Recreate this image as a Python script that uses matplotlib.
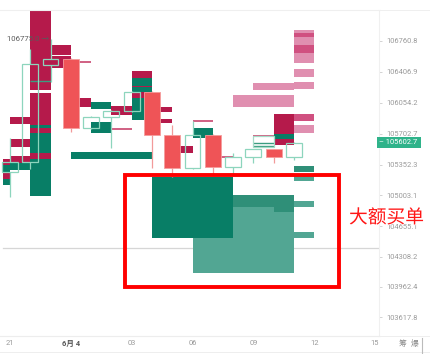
import matplotlib
matplotlib.use("Agg")
import matplotlib.pyplot as plt
from matplotlib.patches import Rectangle
from matplotlib.transforms import blended_transform_factory
import matplotlib.patheffects as pe

plt.rcParams['font.family'] = ['Roboto', 'Noto Sans CJK SC', 'DejaVu Sans']

# hourly candles, hour 0 = 21:00
hours = list(range(15))
open_ = [105269, 105383, 106485, 106553, 105769, 105894, 105962, 106178,
         105689, 105314, 105689, 105326, 105439, 105530, 105439]
close = [105383, 106496, 106553, 105769, 105894, 105962, 106178, 105689,
         105314, 105689, 105326, 105439, 105530, 105439, 105602.7]
high = [105655, 106666, 106775.0, 106560, 105900, 105970, 106190, 106185,
        105803, 105849, 105695, 105485, 105535, 105535, 105610]
low = [104985, 105300, 106291, 105723, 105760, 105542, 105950, 105314,
       105212, 105300, 105234, 105234, 105371, 105371, 105405]

# order blocks: (start hour, end hour, low price, high price)
sell_blocks = [
    (-0.35, 0, 105348, 105417), (-0.35, 0, 105190, 105258),
    (0, 1, 105814, 105894), (0, 1, 105553, 105644), (0, 1, 105371, 105451),
    (1, 2, 106201, 107110), (1, 2, 105803, 106166), (1, 2, 105712, 105769),
    (1, 2, 105417, 105485),
    (2, 3, 106598, 106712), (2, 3, 106451, 106587),
    (3.4, 4, 106007, 106110),
    (5, 6, 105917, 106019),
    (6, 7, 106337, 106417), (6, 7, 106280, 106297), (6, 7, 106229, 106246),
    (6, 7, 106110, 106178),
    (7.4, 8, 105951, 106007), (7.4, 8, 105826, 105871),
    (8.4, 9, 105485, 105564),
    (13, 14, 105576, 105928),
]
buy_blocks = [
    (-0.35, 0, 105258, 105348), (-0.35, 0, 105121, 105190),
    (0, 1, 105292, 105371),
    (1, 2, 105769, 105803), (1, 2, 105485, 105712), (1, 2, 104996, 105417),
    (4, 5, 105985, 106064), (4, 5, 105712, 105837),
    (3, 7, 105417, 105496),
    (6, 7, 106246, 106337), (6, 7, 106178, 106229), (6, 7, 105860, 106110),
    (9, 10, 105655, 105769),
    (13, 14, 105644, 105701),
    (7, 11, 104519, 105212),
]
sell_light = [
    (14, 15, 106507, 106882), (14, 15, 106348, 106439), (14, 15, 106212, 106292),
    (14, 15, 105712, 105803), (11, 14, 106007, 106144), (12, 14, 106201, 106280),
]
sell_mid = [
    (14, 15, 106803, 106848), (14, 15, 106621, 106712), (14, 15, 105848, 105928),
]
buy_light = [
    (9, 14, 104121, 105008), (14, 15, 105167, 105246),
    (14, 15, 104871, 104940), (14, 15, 104519, 104587),
]
buy_mid = [
    (11, 14, 104871, 105008), (13, 14, 104815, 104917), (14, 15, 105269, 105337),
]
# thin order lines: (start hour, end hour, price)
sell_lines = [(3.4, 4, 106519), (5, 6, 105758), (9, 10, 105848),
              (10.4, 11, 105439), (12, 13, 105678)]
buy_lines = [(1, 2, 106303), (12, 13, 105598), (12, 13, 105564)]
outline_blocks = [(12, 13, 105553, 105678)]

price_ticks = [106760.8, 106406.9, 106054.2, 105702.7, 105352.3,
               105003.1, 104655.1, 104308.2, 103962.4, 103617.8]
time_ticks = [0, 3, 6, 9, 12, 15, 18]
time_labels = ['21', '6月 4', '03', '06', '09', '12', '15']
high_mark = 106775.0
guide_price = 104405
highlight = (5.69, 16.2, 103962, 105238)
highlight_text = '大额买单'

C_SELL = '#b51a4b'
C_BUY = '#087e66'
C_SELL_L = '#e08fb0'
C_SELL_M = '#d05080'
C_BUY_L = '#52a693'
C_BUY_M = '#2f8f78'
C_DOWN = '#ef5457'
C_UP = '#8dd5bd'

fig = plt.figure(figsize=(4.31, 3.54), dpi=100)
ax = fig.add_axes([0, 18 / 354, 379 / 431, 326 / 354])
ax.set_xlim(-0.493, 18.195)
ax.set_ylim(103405.3, 107109.6)


def draw_blocks(blocks, color, z):
    for s, e, lo, hi in blocks:
        ax.add_patch(Rectangle((s, lo), e - s, hi - lo, facecolor=color,
                               edgecolor='none', zorder=z))


draw_blocks(buy_light, C_BUY_L, 2.0)
draw_blocks(buy_mid, C_BUY_M, 2.1)
draw_blocks(sell_light, C_SELL_L, 2.0)
draw_blocks(sell_mid, C_SELL_M, 2.1)
draw_blocks(sell_blocks, C_SELL, 2.2)
draw_blocks(buy_blocks, C_BUY, 2.3)

for s, e, p in sell_lines:
    ax.hlines(p, s, e, color='#c8466e', lw=1.2, zorder=3)
for s, e, p in buy_lines:
    ax.hlines(p, s, e, color='#3a9c80', lw=1.0, zorder=3)
for s, e, lo, hi in outline_blocks:
    ax.add_patch(Rectangle((s, lo), e - s, hi - lo, facecolor='none',
                           edgecolor='#a5dcc8', lw=0.9, zorder=3))

ax.axhline(guide_price, xmin=0.008, xmax=1, color='#d6d6d6', lw=0.9, zorder=1.5)

# candles
w = 0.78
for h, o, c, hi, lo in zip(hours, open_, close, high, low):
    top, bot = max(o, c), min(o, c)
    if c >= o:
        ax.vlines(h, top, hi, color=C_UP, lw=0.9, zorder=4)
        ax.vlines(h, lo, bot, color=C_UP, lw=0.9, zorder=4)
        ax.add_patch(Rectangle((h - w / 2, bot), w, top - bot, facecolor='none',
                               edgecolor=C_UP, lw=0.9, zorder=4.1))
    else:
        ax.vlines(h, lo, hi, color='#f29a9a', lw=0.9, zorder=4)
        ax.add_patch(Rectangle((h - w / 2, bot), w, top - bot, facecolor=C_DOWN,
                               edgecolor='#f59c9c', lw=0.6, zorder=4.1))

ax.text(1.93, high_mark, f'{high_mark:.1f} →', ha='right', va='center',
        fontsize=5.6, color='#5a5a5a', zorder=5)

# axes styling
ax.spines['left'].set_visible(False)
ax.spines['top'].set_color('#efefef')
ax.spines['bottom'].set_color('#e8e8e8')
ax.spines['right'].set_color('#f0f0f0')
for sp in ax.spines.values():
    sp.set_linewidth(0.8)

ax.yaxis.tick_right()
ax.set_yticks(price_ticks)
ax.set_yticklabels([f'{v:.1f}' for v in price_ticks])
ax.tick_params(axis='y', length=2.2, width=0.6, color='#cccccc', pad=3.0,
               labelsize=5.4, labelcolor='#9a9a9a')
ax.set_xticks(time_ticks)
ax.set_xticklabels(time_labels)
ax.tick_params(axis='x', length=0, pad=3.2, labelsize=5.4, labelcolor='#9a9a9a')
for lab in ax.get_xticklabels():
    if '月' in lab.get_text():
        lab.set_color('#555555')
        lab.set_fontweight('bold')

# current price tag
tr = blended_transform_factory(ax.transAxes, ax.transData)
ax.text(1.0, close[-1], f'– {close[-1]:.1f} ', transform=tr, ha='left', va='center',
        fontsize=5.4, color='white', clip_on=False, zorder=8,
        bbox=dict(boxstyle='square,pad=0.28', fc='#2fb38a', ec='none'))

# highlighted area
x0, x1, y0, y1 = highlight
ax.add_patch(Rectangle((x0, y0), x1 - x0, y1 - y0, facecolor='none',
                       edgecolor='#ff0000', lw=2.8, zorder=6, clip_on=False))
fig.text(386.5 / 431, 1 - 218 / 354, highlight_text, ha='center', va='center',
         fontsize=13.5, color='#ff1616', zorder=9,
         path_effects=[pe.withStroke(linewidth=1.2, foreground='white')])

# footer row
fig.text(403 / 431, 1 - 343 / 354, '筹', ha='center', va='center', fontsize=5.6,
         color='#8a8a8a')
fig.text(415 / 431, 1 - 343 / 354, '爆', ha='center', va='center', fontsize=5.6,
         color='#8a8a8a')
fig.add_artist(plt.Line2D([0, 1], [1 - 336 / 354] * 2, color='#eeeeee', lw=0.7))
fig.add_artist(plt.Line2D([0, 1], [1 - 352 / 354] * 2, color='#eeeeee', lw=0.7))
fig.add_artist(plt.Line2D([379 / 431, 1], [1 - 10 / 354] * 2, color='#efefef', lw=0.7))
fig.add_artist(plt.Line2D([422 / 431] * 2, [1 - 338 / 354, 1 - 353 / 354],
                          color='#bbbbbb', lw=0.8))

fig.savefig('out.png', dpi=100)
